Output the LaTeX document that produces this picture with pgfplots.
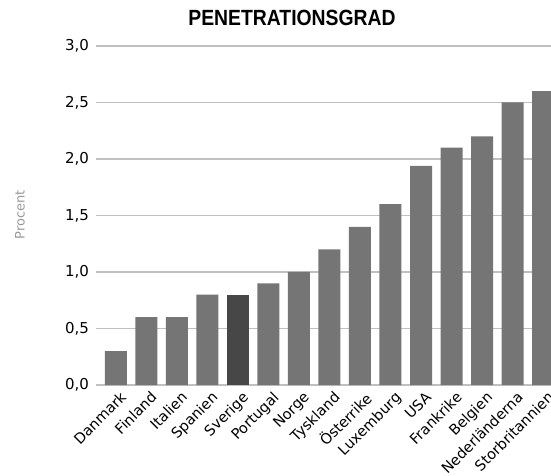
\documentclass[border=0pt]{standalone}
\usepackage{pgfplots}
\pgfplotsset{compat=1.18}
\usepackage{fontspec}
\setmainfont{Liberation Sans}
\newfontfamily\labfont{DejaVu Sans}
\definecolor{barc}{HTML}{757575}
\definecolor{swe}{HTML}{474747}
\definecolor{gridc}{HTML}{C0C0C0}
\definecolor{labc}{HTML}{999999}
\begin{document}
\begin{tikzpicture}[x=1pt,y=1pt]
\begin{axis}[
  at={(0,0)}, anchor=south west,
  scale only axis, width=455pt, height=339pt,
  xmin=-0.65, xmax=14.26, ymin=0, ymax=3,
  axis line style={draw=none},
  tick style={draw=none},
  ymajorgrids, grid style={gridc, line width=1.6pt},
  ytick={0,0.5,...,3.0},
  /pgf/number format/fixed,
  /pgf/number format/fixed zerofill,
  /pgf/number format/precision=1,
  /pgf/number format/use comma,
  /pgf/number format/assume math mode=true,
  yticklabel style={font=\labfont\fontsize{15}{15}\selectfont, xshift=-3.5pt},
  xtick={0,...,14},
  xticklabels={Danmark,Finland,Italien,Spanien,Sverige,Portugal,Norge,Tyskland,Österrike,Luxemburg,USA,Frankrike,Belgien,Nederländerna,Storbritannien},
  xticklabel style={font=\labfont\fontsize{14.5}{14.5}\selectfont, rotate=45, anchor=north east, xshift=2pt, yshift=-3pt},
  clip=true,
]
\addplot[ybar, bar width=22pt, bar shift=0pt, fill=barc, draw=none] coordinates {
(0,0.3) (1,0.6) (2,0.6) (3,0.8) (5,0.9) (6,1.0) (7,1.2) (8,1.4) (9,1.6) (10,1.94) (11,2.1) (12,2.2) (13,2.5) (14,2.6)};
\addplot[ybar, bar width=22pt, bar shift=0pt, fill=swe, draw=none] coordinates {(4,0.8)};
\end{axis}
\node at (196,367) {\scalebox{0.88}[1]{\fontsize{22}{22}\selectfont\bfseries PENETRATIONSGRAD}};
\node[rotate=90, text=labc] at (-76,170) {\labfont\fontsize{13}{13}\selectfont Procent};
\pgfresetboundingbox
\useasboundingbox (-96,-91) rectangle (455,385);
\end{tikzpicture}
\end{document}
